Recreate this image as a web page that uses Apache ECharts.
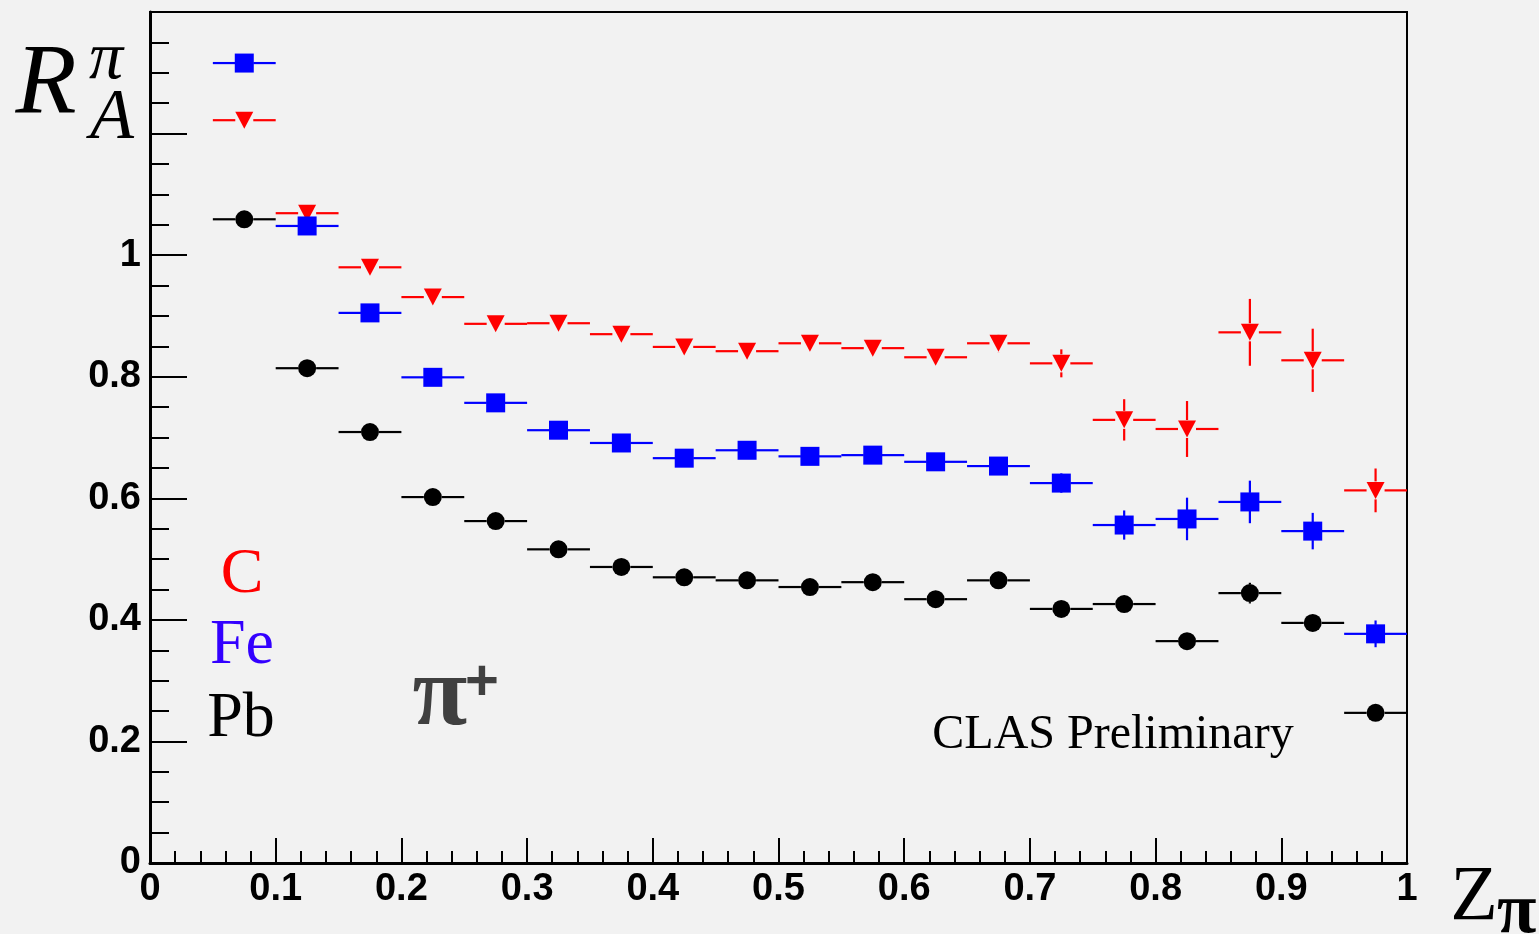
<!DOCTYPE html>
<html>
<head>
<meta charset="utf-8">
<script src="https://cdn.jsdelivr.net/npm/echarts@6/dist/echarts.min.js"></script>
<style>
html,body{margin:0;padding:0;background:#f2f2f2;}
#main{width:1539px;height:934px;}
</style>
</head>
<body>
<div id="main"></div>
<script>
// ---- data ----
const zBins = [0.075,0.125,0.175,0.225,0.275,0.325,0.375,0.425,0.475,0.525,0.575,0.625,0.675,0.725,0.775,0.825,0.875,0.925,0.975];
const binHalfWidth = 0.025;
const cVals  = [1.222,1.069,0.980,0.931,0.887,0.888,0.870,0.849,0.842,0.855,0.847,0.832,0.855,0.822,0.729,0.714,0.873,0.827,0.613];
const cErr   = [0.008,0.008,0.008,0.008,0.008,0.008,0.009,0.009,0.009,0.010,0.010,0.012,0.015,0.023,0.034,0.046,0.055,0.052,0.036];
const feVals = [1.316,1.048,0.905,0.799,0.757,0.712,0.691,0.666,0.679,0.669,0.671,0.660,0.653,0.625,0.556,0.566,0.594,0.546,0.377];
const feErr  = [0.006,0.006,0.006,0.006,0.006,0.006,0.006,0.007,0.007,0.008,0.008,0.009,0.010,0.016,0.024,0.035,0.035,0.030,0.022];
const pbVals = [1.059,0.814,0.709,0.602,0.5625,0.516,0.487,0.470,0.465,0.454,0.462,0.434,0.465,0.418,0.426,0.365,0.444,0.395,0.247];
const pbErr  = [0.005,0.005,0.005,0.005,0.005,0.005,0.005,0.005,0.006,0.006,0.006,0.007,0.012,0.008,0.008,0.009,0.017,0.012,0.010];
const xTickLabels = {'0':'0','0.1':'0.1','0.2':'0.2','0.3':'0.3','0.4':'0.4','0.5':'0.5','0.6':'0.6','0.7':'0.7','0.8':'0.8','0.9':'0.9','1':'1'};
const yTickLabels = {'0':'0','0.2':'0.2','0.4':'0.4','0.6':'0.6','0.8':'0.8','1':'1'};

const RED = '#ff0000', BLUE = '#0000ff', BLACK = '#000000';

function pack(vals, errs){ return zBins.map((z,i)=>[z, vals[i], errs[i]]); }

function errRender(color, gap){
  return function(params, api){
    const x = api.value(0), y = api.value(1), e = api.value(2);
    const c = api.coord([x, y]);
    const l = api.coord([x - binHalfWidth, y]);
    const r = api.coord([x + binHalfWidth, y]);
    const t = api.coord([x, y + e]);
    const b = api.coord([x, y - e]);
    const st = {stroke: color, lineWidth: 2.2};
    const ch = [];
    ch.push({type:'line', shape:{x1:l[0], y1:c[1], x2:c[0]-gap, y2:c[1]}, style:st});
    ch.push({type:'line', shape:{x1:c[0]+gap, y1:c[1], x2:r[0], y2:c[1]}, style:st});
    if (c[1]-t[1] > gap) ch.push({type:'line', shape:{x1:c[0], y1:t[1], x2:c[0], y2:c[1]-gap}, style:st});
    if (b[1]-c[1] > gap) ch.push({type:'line', shape:{x1:c[0], y1:c[1]+gap, x2:c[0], y2:b[1]}, style:st});
    return {type:'group', children: ch};
  };
}

const chart = echarts.init(document.getElementById('main'), null, {renderer:'canvas'});
const tickFont = {fontSize:38, fontWeight:'bold', color:'#000', fontFamily:'Liberation Sans, Arial, sans-serif'};
function fmtKey(v){ return String(Math.round(v*100)/100); }

const serif = 'Liberation Serif, Times New Roman, serif';

chart.setOption({
  backgroundColor:'#f2f2f2',
  animation:false,
  grid:{left:150, right:132, top:12, bottom:71, show:true, borderColor:'#000', borderWidth:2, backgroundColor:'#f2f2f2', containLabel:false},
  xAxis:{
    type:'value', min:0, max:1, interval:0.1,
    axisLine:{show:true, onZero:false, lineStyle:{color:'#000', width:3}},
    axisTick:{show:true, inside:true, length:25, lineStyle:{color:'#000', width:2}},
    minorTick:{show:true, splitNumber:5, length:12, lineStyle:{color:'#000', width:2}},
    splitLine:{show:false},
    axisLabel:Object.assign({margin:8, formatter:v=>xTickLabels[fmtKey(v)] ?? ''}, tickFont)
  },
  yAxis:{
    type:'value', min:0, max:1.4, interval:0.2,
    axisLine:{show:true, onZero:false, lineStyle:{color:'#000', width:3}},
    axisTick:{show:true, inside:true, length:37, lineStyle:{color:'#000', width:2}},
    minorTick:{show:true, splitNumber:4, length:19, lineStyle:{color:'#000', width:2}},
    splitLine:{show:false},
    axisLabel:Object.assign({margin:9, formatter:v=>yTickLabels[fmtKey(v)] ?? ''}, tickFont)
  },
  series:[
    {type:'custom', name:'C err', data:pack(cVals,cErr), renderItem:errRender(RED,9), z:2, silent:true},
    {type:'scatter', name:'C', data:pack(cVals,cErr), symbol:'triangle', symbolRotate:180, symbolSize:[18,17], itemStyle:{color:RED, opacity:1}, z:3, silent:true},
    {type:'custom', name:'Fe err', data:pack(feVals,feErr), renderItem:errRender(BLUE,9), z:4, silent:true},
    {type:'scatter', name:'Fe', data:pack(feVals,feErr), symbol:'rect', symbolSize:19, itemStyle:{color:BLUE, opacity:1}, z:5, silent:true},
    {type:'custom', name:'Pb err', data:pack(pbVals,pbErr), renderItem:errRender(BLACK,9), z:6, silent:true},
    {type:'scatter', name:'Pb', data:pack(pbVals,pbErr), symbol:'circle', symbolSize:18, itemStyle:{color:BLACK, opacity:1}, z:7, silent:true}
  ],
  graphic:[
    {type:'text', z:100, style:{text:'R', x:46, y:86, font:'italic 100px '+serif, fill:'#000', align:'center', verticalAlign:'middle'}},
    {type:'text', z:100, style:{text:'π', x:106, y:60, font:'italic 68px '+serif, fill:'#000', align:'center', verticalAlign:'middle'}},
    {type:'text', z:100, style:{text:'A', x:112, y:119, font:'italic 72px '+serif, fill:'#000', align:'center', verticalAlign:'middle'}},
    {type:'text', z:100, style:{text:'C', x:242, y:575, font:'64px '+serif, fill:'#ff0000', align:'center', verticalAlign:'middle'}},
    {type:'text', z:100, style:{text:'Fe', x:242, y:646, font:'64px '+serif, fill:'#3300ff', align:'center', verticalAlign:'middle'}},
    {type:'text', z:100, style:{text:'Pb', x:241, y:719, font:'64px '+serif, fill:'#000', align:'center', verticalAlign:'middle'}},
    {type:'text', z:100, style:{text:'π', x:440, y:698, font:'bold 100px '+serif, fill:'#404040', align:'center', verticalAlign:'middle'}},
    {type:'text', z:100, style:{text:'+', x:482, y:684, font:'bold 58px Liberation Sans, Arial, sans-serif', fill:'#404040', align:'center', verticalAlign:'middle'}},
    {type:'text', z:100, style:{text:'CLAS Preliminary', x:1113, y:735, font:'48px '+serif, fill:'#000', align:'center', verticalAlign:'middle'}},
    {type:'text', z:100, style:{text:'Z', x:1474, y:899, font:'78px '+serif, fill:'#000', align:'center', verticalAlign:'middle'}},
    {type:'text', z:100, style:{text:'π', x:1497, y:913, font:'bold 72px '+serif, fill:'#000', align:'left', verticalAlign:'middle'}}
  ]
});
</script>
</body>
</html>
